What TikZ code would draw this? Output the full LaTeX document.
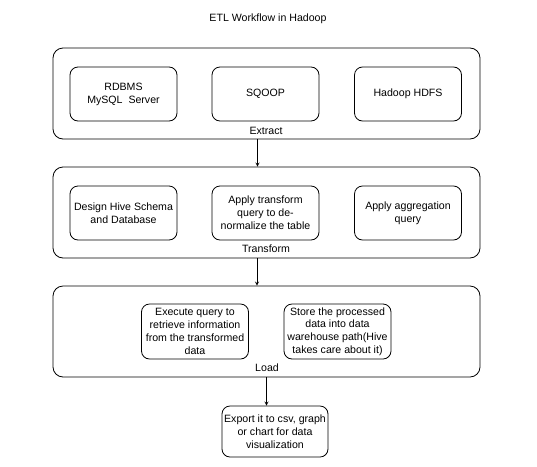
\documentclass[tikz,border=0pt]{standalone}
\usepackage{fontspec}
\setmainfont{Liberation Sans}
\tikzset{
  ->/.style={draw=black,-stealth,line width=0.8pt},
  stage/.style={draw,line width=0.8pt,rounded corners=10pt,minimum width=427pt,minimum height=91pt},
  task/.style={draw,line width=0.8pt,rounded corners=8pt,minimum width=107pt,minimum height=54pt,align=center}
}
\tikzstyle{every node}=[color=black,inner sep=0pt,font=\fontsize{10.6}{12.8}\selectfont]

\begin{document}
\begin{tikzpicture}[x=1pt,y=-1pt]
    \useasboundingbox (0,0) rectangle (537,466);
    \node (T) at (268,19) {ETL Workflow in Hadoop};
    % Extract
    \node[stage] (S1) at (266.5,93.5) {};
    \node[task] (A) at (123.5,94) {RDBMS\\MySQL\ \ Server};
    \node[task] (B) at (265.5,94) {SQOOP};
    \node[task] (C) at (408,94) {Hadoop HDFS};
    \node (L1) at (266,131) {Extract};
    % Transform
    \node[stage] (S2) at (266.5,212.5) {};
    \node[task] (D) at (123.5,213) {Design Hive Schema\\and Database};
    \node[task] (E) at (265.5,213) {Apply transform\\query to de-\\normalize the table};
    \node[task] (F) at (408,213) {Apply aggregation\\query};
    \node (L2) at (266,249) {Transform};
    % Load
    \node[stage] (S3) at (266.5,331.5) {};
    \node[task,minimum height=55pt] (G) at (195,331.5) {Execute query to\\retrieve information\\from the transformed\\data};
    \node[task,minimum height=55pt] (H) at (337.5,331.5) {Store the processed\\data into data\\warehouse path(Hive\\takes care about it)};
    \node (L3) at (267,368) {Load};
    % Output
    \node[task,minimum width=106pt,minimum height=51pt] (K) at (275,431.5) {Export it to csv, graph\\or chart for data\\visualization};
    \draw [->] ([xshift=-9pt]S1.south) -- ([xshift=-9pt]S2.north);
    \draw [->] ([xshift=-9.5pt]S2.south) -- ([xshift=-9.5pt]S3.north);
    \draw [->] (S3.south) -- (S3.south |- K.north);
\end{tikzpicture}
\end{document}
